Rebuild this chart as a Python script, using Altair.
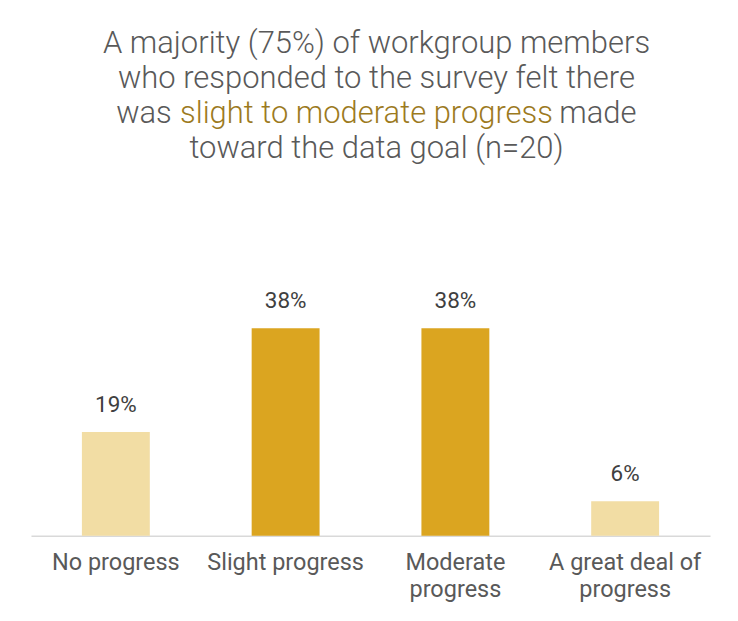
import altair as alt
import pandas as pd

# ---- data ----
categories = ["No progress", "Slight progress", "Moderate progress", "A great deal of progress"]
values = [18.75, 37.5, 37.5, 6.25]
value_labels = ["19%", "38%", "38%", "6%"]
bar_groups = ["other", "highlight", "highlight", "other"]
wrapped = {"Moderate progress": ["Moderate", "progress"],
           "A great deal of progress": ["A great deal of", "progress"]}

title_line1 = "A majority (75%) of workgroup members"
title_line2 = "who responded to the survey felt there"
title_line3_pre = "was"
title_line3_hi = "slight to moderate progress"
title_line3_post = "made"
title_line4 = "toward the data goal (n=20)"

# ---- style ----
FONT = "Roboto"
GREY = "#595959"
DARK_TXT = "#404040"
GOLD_TXT = "#9C7A1E"
LIGHT = "#F2DDA4"
DARK = "#DBA520"
W, H = 680, 526
TFS = 31  # title font size
TFW = 300
XC = 346  # title centre (relative to plot left)
HI_C = 336  # centre of highlighted phrase
PRE_DX = -195
POST_DX = 193

df = pd.DataFrame({"category": categories, "value": values,
                   "label": value_labels, "group": bar_groups})

expr = "datum.label"
for k, v in wrapped.items():
    arr = "[" + ", ".join("'" + s + "'" for s in v) + "]"
    expr = f"datum.label == '{k}' ? {arr} : " + expr

x = alt.X("category:N", sort=categories,
          scale=alt.Scale(paddingInner=0.6, paddingOuter=0.3),
          axis=alt.Axis(title=None, labelExpr=expr, labelAngle=0, labelFont=FONT,
                        labelFontSize=23.5, labelColor=GREY, labelPadding=15,
                        labelLineHeight=27, ticks=False, domainColor="#D9D9D9",
                        domainWidth=1.5, labelBaseline="top"))
y = alt.Y("value:Q", scale=alt.Scale(domain=[0, 95]), axis=None)

bars = alt.Chart(df).mark_bar().encode(
    x=x, y=y,
    color=alt.Color("group:N", scale=alt.Scale(domain=["other", "highlight"],
                                                range=[LIGHT, DARK]), legend=None))

vals = alt.Chart(df).mark_text(dy=-20, baseline="alphabetic", fontSize=22.5,
                               font=FONT, color=DARK_TXT).encode(
    x=x, y=y, text="label:N")


def tline(txt, yy, xx=XC, color=GREY, align="center", dx=0):
    return alt.Chart(pd.DataFrame({"t": [txt]})).mark_text(
        font=FONT, fontSize=TFS, fontWeight=TFW, color=color, align=align,
        baseline="alphabetic", dx=dx).encode(
        x=alt.value(xx), y=alt.value(yy), text="t:N")


titles = [
    tline(title_line1, 43),
    tline(title_line2, 78),
    tline(title_line3_hi, 113, xx=HI_C, color=GOLD_TXT),
    tline(title_line3_pre, 113, xx=HI_C, align="right", dx=PRE_DX),
    tline(title_line3_post, 113, xx=HI_C, align="left", dx=POST_DX),
    tline(title_line4, 148),
]

chart = alt.layer(bars, vals, *titles).properties(
    width=W, height=H,
    background="white",
    padding={"left": 23, "top": 2, "right": 20, "bottom": 80},
    autosize=alt.AutoSizeParams(type="none"),
).configure_view(strokeWidth=0, strokeOpacity=0)

chart.save("out.html", embed_options={"renderer": "svg", "actions": False})
